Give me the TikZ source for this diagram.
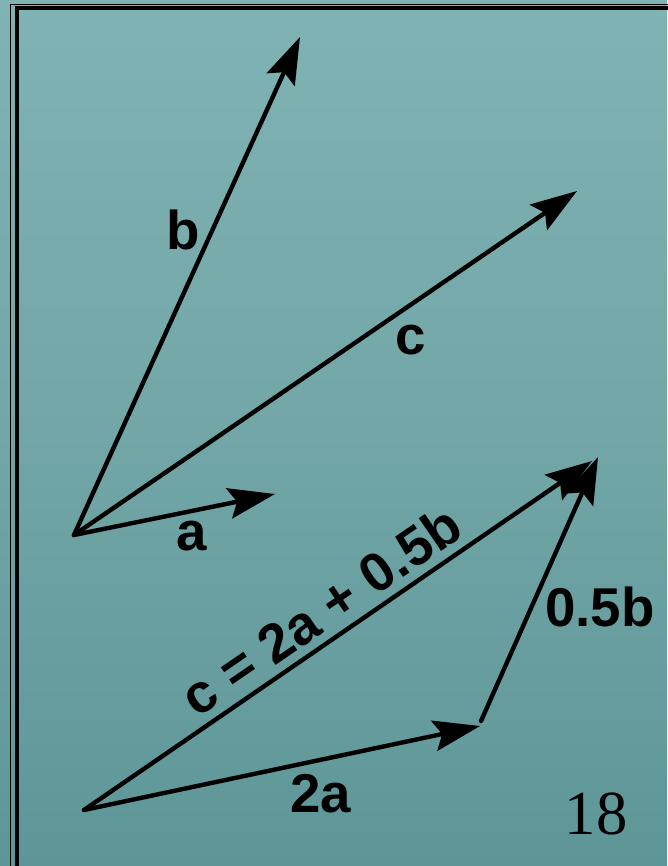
\documentclass[tikz,border=0pt]{standalone}
\usepackage{fontspec}
\setmainfont{Liberation Sans}
\newfontfamily\numfont{Liberation Serif}
\usetikzlibrary{arrows.meta}
\definecolor{bgtop}{RGB}{128,179,179}
\definecolor{bgmid}{RGB}{114,166,167}
\definecolor{bgbot}{RGB}{94,150,152}
\tikzset{
  vec/.style={line width=3.3pt, line cap=round, -{Stealth[length=35pt,width=23pt,inset=6pt]}},
  lbl/.style={font=\fontsize{41}{48}\selectfont\bfseries, inner sep=0pt},
  framethin/.style={line width=0.8pt, black},
  framethick/.style={line width=3pt, black}
}
\begin{document}
\begin{tikzpicture}[x=0.75pt,y=-0.75pt]
\useasboundingbox (0,0) rectangle (667,866);
\shade[top color=bgtop, bottom color=bgbot, middle color=bgmid] (0,0) rectangle (667,866);
% frame
\coordinate (ft1) at (10.5,880);
\coordinate (ft2) at (10.5,4.5);
\coordinate (ft3) at (680,4.5);
\coordinate (fk1) at (17,880);
\coordinate (fk2) at (17,8);
\coordinate (fk3) at (680,8);
\draw[framethin] (ft1) -- (ft2) -- (ft3);
\draw[framethick] (fk1) -- (fk2) -- (fk3);
% upper vectors
\coordinate (O1) at (74,535);
\coordinate (Btip) at (300,37);
\coordinate (Ctip) at (577,191);
\coordinate (Atip) at (275,494);
\draw[vec] (O1) -- (Btip);
\draw[vec] (O1) -- (Ctip);
\draw[vec] (O1) -- (Atip);
\node[lbl] (lb) at (183,230) {b};
\node[lbl] (lc) at (411,340) {c};
\node[lbl] (la) at (192,536) {a};
% lower vectors
\coordinate (O2) at (84,810);
\coordinate (A2tip) at (480,726);
\coordinate (Bstart) at (481,721);
\coordinate (B2tip) at (598,457);
\coordinate (C2tip) at (592,461);
\draw[vec] (O2) -- (A2tip);
\draw[vec] (Bstart) -- (B2tip);
\draw[vec] (O2) -- node[lbl, sloped, above=6pt] (lsum) {c = 2a + 0.5b} (C2tip);
\node[lbl] (l2a) at (321,794) {2a};
\node[lbl] (l05b) at (600,607) {0.5b};
\node[font=\fontsize{47}{52}\selectfont\numfont, inner sep=0pt] (pg) at (596,814) {18};
\end{tikzpicture}
\end{document}
